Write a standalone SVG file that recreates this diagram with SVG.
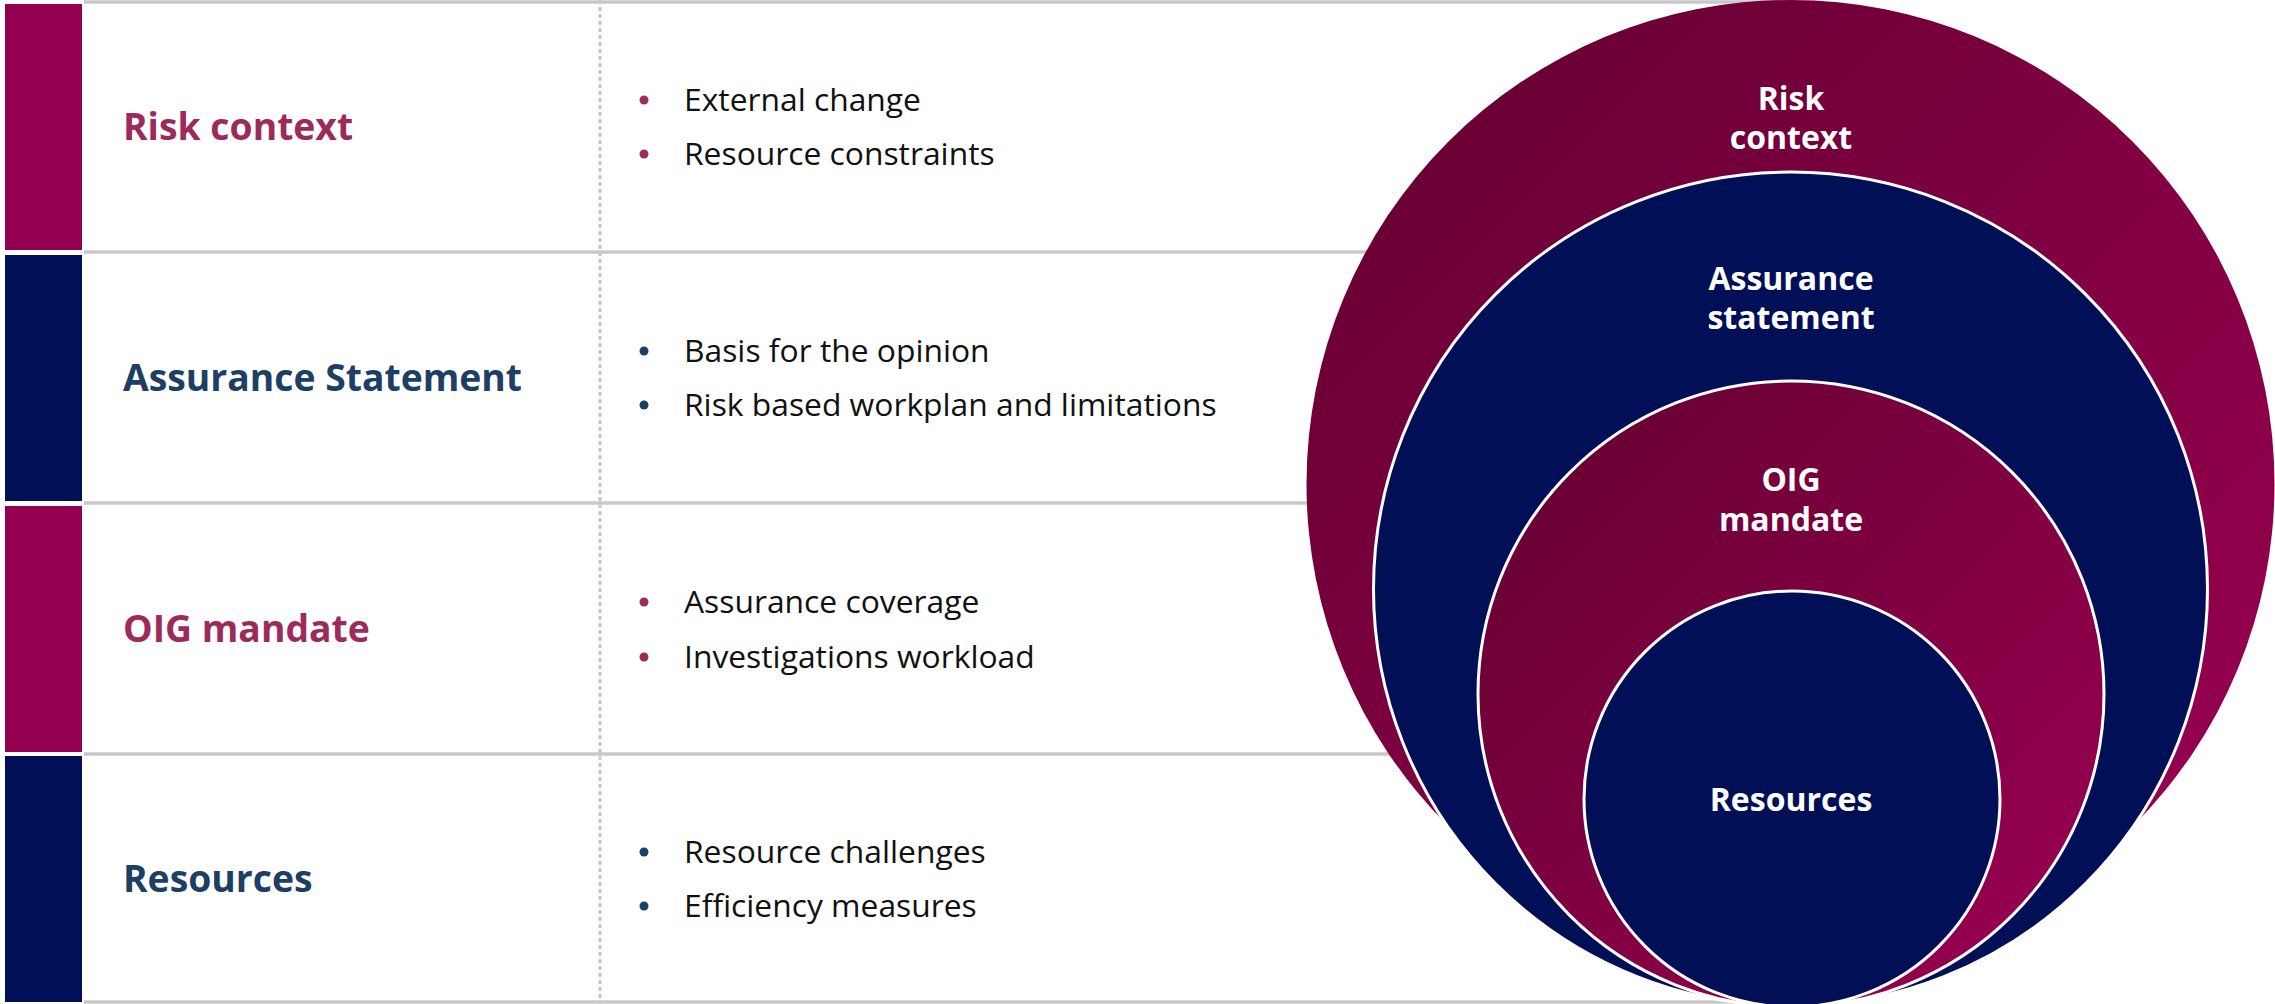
<svg xmlns="http://www.w3.org/2000/svg" width="2275" height="1004" viewBox="0 0 2275 1004">
<style>
.title{font-family:"Open Sans","Liberation Sans",sans-serif;font-weight:700;font-size:37.3px}
.mag{fill:#9c2b5c}
.nav{fill:#1d3f63}
.item{font-family:"Open Sans","Liberation Sans",sans-serif;font-size:31.8px;fill:#111111}
.clabel{font-family:"Open Sans","Liberation Sans",sans-serif;font-weight:700;font-size:32px;fill:#ffffff;text-anchor:middle}
.hline{stroke:#c8c8c8;stroke-width:3.5;fill:none}
.vline{stroke:#c8c8c8;stroke-width:3;stroke-dasharray:4 3;fill:none}
.barM{fill:#930050}
.barN{fill:#000f56}
.cN{fill:#000f56;stroke:#ffffff;stroke-width:3}
.cM{fill:url(#magGrad);stroke:#ffffff;stroke-width:3}
</style>
<defs>
<linearGradient id="magGrad" x1="0" y1="0" x2="1" y2="1">
<stop offset="0" stop-color="#620030"/>
<stop offset="1" stop-color="#9c0053"/>
</linearGradient>
</defs>
<rect width="2275" height="1004" fill="#ffffff"/>
<g id="connectors">
<line class="hline" x1="84" y1="2" x2="1800" y2="2"/>
<line class="hline" x1="84" y1="252" x2="1800" y2="252"/>
<line class="hline" x1="84" y1="503" x2="1800" y2="503"/>
<line class="hline" x1="84" y1="754" x2="1800" y2="754"/>
<line class="hline" x1="84" y1="1002" x2="1800" y2="1002"/>
<line class="vline" x1="600" y1="0" x2="600" y2="1004"/>
</g>
<g id="row-risk-context">
<rect class="barM" x="5" y="4" width="77" height="246"/>
<text class="title mag" x="123" y="140">Risk context</text>
<circle class="mag" cx="644" cy="100" r="4.5"/>
<text class="item" x="684" y="111">External change</text>
<circle class="mag" cx="644" cy="154" r="4.5"/>
<text class="item" x="684" y="165">Resource constraints</text>
</g>
<g id="row-assurance-statement">
<rect class="barN" x="5" y="255" width="77" height="246"/>
<text class="title nav" x="123" y="391">Assurance Statement</text>
<circle class="nav" cx="644" cy="351" r="4.5"/>
<text class="item" x="684" y="362">Basis for the opinion</text>
<circle class="nav" cx="644" cy="405" r="4.5"/>
<text class="item" x="684" y="416">Risk based workplan and limitations</text>
</g>
<g id="row-oig-mandate">
<rect class="barM" x="5" y="506" width="77" height="246"/>
<text class="title mag" x="123" y="642">OIG mandate</text>
<circle class="mag" cx="644" cy="602" r="4.5"/>
<text class="item" x="684" y="613">Assurance coverage</text>
<circle class="mag" cx="644" cy="657" r="4.5"/>
<text class="item" x="684" y="668">Investigations workload</text>
</g>
<g id="row-resources">
<rect class="barN" x="5" y="756" width="77" height="246"/>
<text class="title nav" x="123" y="892">Resources</text>
<circle class="nav" cx="644" cy="852" r="4.5"/>
<text class="item" x="684" y="863">Resource challenges</text>
<circle class="nav" cx="644" cy="906" r="4.5"/>
<text class="item" x="684" y="917">Efficiency measures</text>
</g>
<g id="circle-risk-context">
<circle cx="1790.5" cy="484" r="484" fill="url(#magGrad)"/>
<text class="clabel" x="1791" y="110">Risk</text>
<text class="clabel" x="1791" y="149">context</text>
</g>
<g id="circle-assurance-statement">
<circle class="cN" cx="1790.5" cy="589" r="417"/>
<text class="clabel" x="1791" y="290">Assurance</text>
<text class="clabel" x="1791" y="329">statement</text>
</g>
<g id="circle-oig-mandate">
<circle class="cM" cx="1791" cy="694" r="313"/>
<text class="clabel" x="1791" y="491">OIG</text>
<text class="clabel" x="1791" y="531">mandate</text>
</g>
<g id="circle-resources">
<circle class="cN" cx="1792" cy="799" r="208"/>
<text class="clabel" x="1791" y="811">Resources</text>
</g>
</svg>
